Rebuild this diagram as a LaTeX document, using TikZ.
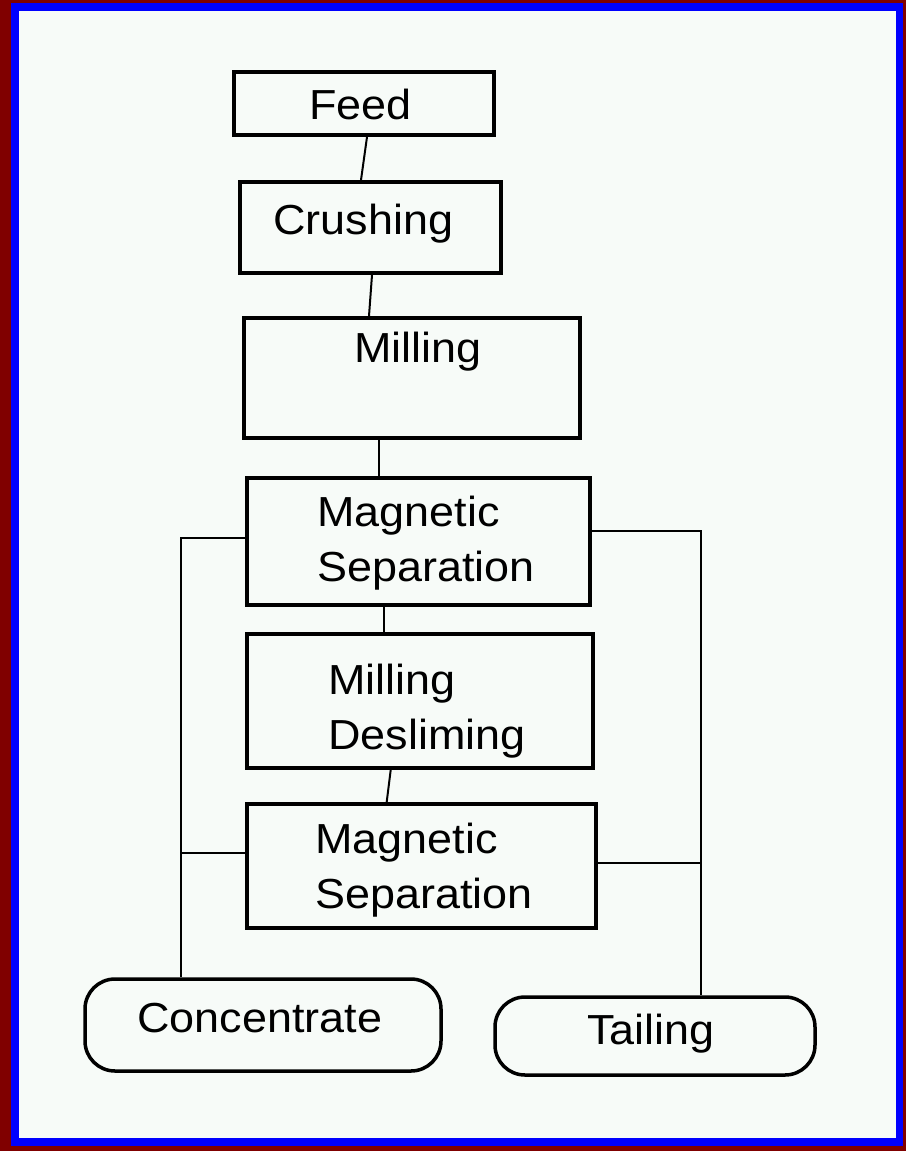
\documentclass[tikz,border=0pt]{standalone}
\usepackage{fontspec}
\setmainfont[FakeStretch=1.07]{Liberation Sans}
\definecolor{frameRed}{RGB}{128,0,0}
\definecolor{frameBlue}{RGB}{0,0,255}
\definecolor{paper}{RGB}{247,251,248}
\tikzset{
  box/.style={draw=black, line width=4pt, rectangle, inner sep=0pt},
  term/.style={draw=black, line width=3.5pt, rectangle, rounded corners=30pt, inner sep=0pt},
  lbl/.style={anchor=base west, inner sep=0pt, align=left, font=\fontsize{42}{55}\selectfont},
  link/.style={draw=black, line width=2pt}
}
\begin{document}
\begin{tikzpicture}[x=1pt,y=-1pt]
% frame
\fill[frameRed] (0,0) rectangle (906,1151);
\fill[frameBlue] (11,3) rectangle (903,1146);
\fill[paper] (19,11) rectangle (896,1138);
\useasboundingbox (0,0) rectangle (906,1151);
% boxes
\node[box, minimum width=260pt, minimum height=63pt] (feed) at (364,103.5) {};
\node[box, minimum width=261pt, minimum height=91pt] (crush) at (370.5,227.5) {};
\node[box, minimum width=336pt, minimum height=120pt] (mill) at (412,378) {};
\node[box, minimum width=343pt, minimum height=127pt] (ms1) at (418.5,541.5) {};
\node[box, minimum width=346pt, minimum height=134pt] (md) at (420,701) {};
\node[box, minimum width=349pt, minimum height=124pt] (ms2) at (421.5,866) {};
\node[term, minimum width=356pt, minimum height=92pt] (conc) at (263,1025) {};
\node[term, minimum width=320pt, minimum height=78pt] (tail) at (655,1036) {};
% labels (base anchor of multi-line nodes = last line's baseline)
\node[lbl] (feedT) at (309,119) {Feed};
\node[lbl] (crushT) at (273,234) {Crushing};
\node[lbl] (millT) at (354,362) {Milling};
\node[lbl] (ms1T) at (317,581) {Magnetic\\Separation};
\node[lbl] (mdT) at (328,749) {Milling\\Desliming};
\node[lbl] (ms2T) at (315,908) {Magnetic\\Separation};
\node[lbl] (concT) at (137,1032) {Concentrate};
\node[lbl] (tailT) at (587,1044) {Tailing};
% vertical chain
\draw[link] ([xshift=3pt]feed.south) -- ([xshift=-9.5pt]crush.north);
\draw[link] ([xshift=1.5pt]crush.south) -- ([xshift=-43pt]mill.north);
\draw[link] ([xshift=-33pt]mill.south) -- ([xshift=-39.5pt]ms1.north);
\draw[link] ([xshift=-34.5pt]ms1.south) -- ([xshift=-36pt]md.north);
\draw[link] ([xshift=-29.3pt]md.south) -- ([xshift=-34.8pt]ms2.north);
% concentrate side
\coordinate (lx) at ([xshift=-82pt]conc.north);
\coordinate (m1l) at ([yshift=3.5pt]ms1.west);
\coordinate (m2l) at ([yshift=13.3pt]ms2.west);
\draw[link] (m1l) -| (lx);
\draw[link] (m2l) -- (m2l -| lx);
% tailing side
\coordinate (rx) at ([xshift=45.5pt]tail.north);
\coordinate (m1r) at ([yshift=10.5pt]ms1.east);
\coordinate (m2r) at ([yshift=3pt]ms2.east);
\draw[link] (m1r) -| (rx);
\draw[link] (m2r) -- (m2r -| rx);
\end{tikzpicture}
\end{document}
